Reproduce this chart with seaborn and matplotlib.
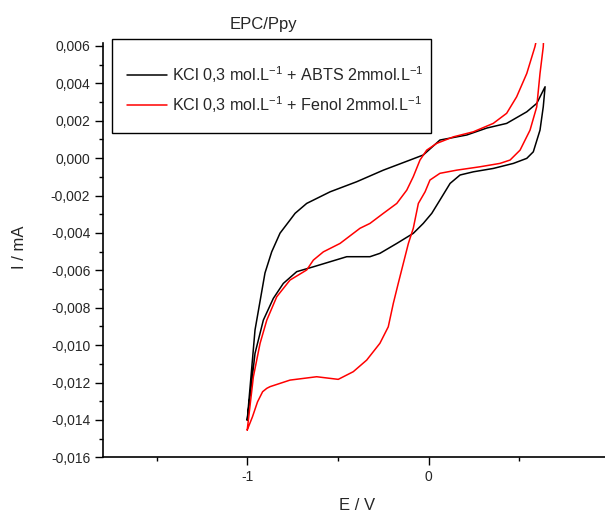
import numpy as np
import pandas as pd
import seaborn as sns
import matplotlib
matplotlib.use("Agg")
import matplotlib.pyplot as plt
from matplotlib.patches import Rectangle
from matplotlib.ticker import MultipleLocator, FuncFormatter

# %%
# curva KCl + ABTS (preta): ramo superior -1 -> 0,64 V e volta pelo ramo inferior
abts_E = [-1.0, -0.957, -0.902, -0.865, -0.819, -0.764, -0.736, -0.672, -0.543, -0.396,
          -0.249, -0.102, -0.029, 0.063, 0.211, 0.321, 0.431, 0.542, 0.597, 0.643,
          0.633, 0.615, 0.578, 0.542, 0.468, 0.357, 0.247, 0.174, 0.119, 0.063,
          0.018, -0.029, -0.084, -0.175, -0.268, -0.323, -0.451, -0.543, -0.635, -0.727,
          -0.801, -0.856, -0.911, -0.957, -1.0]
abts_I = [-0.01401, -0.00919, -0.00614, -0.00501, -0.00401, -0.00331, -0.00295, -0.00242, -0.00180, -0.00126,
          -0.00064, -0.00010, 0.00017, 0.00097, 0.00124, 0.00161, 0.00186, 0.00248, 0.00293, 0.00382,
          0.00275, 0.00150, 0.00034, -0.00001, -0.00028, -0.00055, -0.00073, -0.00090, -0.00135, -0.00224,
          -0.00295, -0.00349, -0.00402, -0.00456, -0.00509, -0.00527, -0.00527, -0.00554, -0.00581, -0.00607,
          -0.00670, -0.00750, -0.00866, -0.01044, -0.01401]

# curva KCl + Fenol (vermelha)
fenol_E = [-1.0, -0.971, -0.943, -0.915, -0.892, -0.874, -0.764, -0.617, -0.498, -0.415,
           -0.341, -0.268, -0.222, -0.194, -0.167, -0.139, -0.111, -0.084, -0.056, -0.019,
           0.008, 0.063, 0.156, 0.284, 0.394, 0.450, 0.505, 0.560, 0.597, 0.615,
           0.633, 0.645,
           0.587, 0.542, 0.486, 0.431, 0.357, 0.247, 0.137, 0.045, -0.010, -0.047,
           -0.084, -0.120, -0.175, -0.249, -0.323, -0.378, -0.488, -0.580, -0.635, -0.672,
           -0.764, -0.837, -0.892, -0.929, -0.966, -1.0]
fenol_I = [-0.01454, -0.01383, -0.01303, -0.01249, -0.01231, -0.01222, -0.01187, -0.01169, -0.01183, -0.01142,
           -0.01080, -0.00990, -0.00902, -0.00776, -0.00670, -0.00563, -0.00456, -0.00375, -0.00242, -0.00180,
           -0.00117, -0.00081, -0.00064, -0.00046, -0.00028, -0.00010, 0.00043, 0.00150, 0.00275, 0.00453,
           0.00596, 0.00850,
           0.00596, 0.00453, 0.00328, 0.00240, 0.00186, 0.00141, 0.00114, 0.00079, 0.00043, -0.00010,
           -0.00099, -0.00171, -0.00242, -0.00295, -0.00349, -0.00375, -0.00456, -0.00501, -0.00545, -0.00598,
           -0.00652, -0.00741, -0.00866, -0.00990, -0.01169, -0.01454]

labels = [r"KCl 0,3 mol.L$^{-1}$ + ABTS 2mmol.L$^{-1}$",
          r"KCl 0,3 mol.L$^{-1}$ + Fenol 2mmol.L$^{-1}$"]
cores = ["#000000", "#ff0000"]

# %%
df = pd.concat([
    pd.DataFrame({"E": abts_E, "I": abts_I, "amostra": labels[0]}),
    pd.DataFrame({"E": fenol_E, "I": fenol_I, "amostra": labels[1]}),
], ignore_index=True)

sns.set_style("ticks")
plt.rcParams["font.family"] = ["Liberation Sans", "DejaVu Sans"]
plt.rcParams["mathtext.fontset"] = "custom"
plt.rcParams["mathtext.rm"] = "Liberation Sans"
plt.rcParams["mathtext.it"] = "Liberation Sans:italic"

fig = plt.figure(figsize=(6.05, 5.15), dpi=100)
ax = fig.add_axes([0.1707, 0.112, 0.8293, 0.8045])

sns.lineplot(data=df, x="E", y="I", hue="amostra", palette=dict(zip(labels, cores)),
             sort=False, estimator=None, lw=1.1, ax=ax, legend=False)

ax.set_xlim(-1.794, 0.9735)
ax.set_ylim(-0.016, 0.00616)
sns.despine(ax=ax)
for s in ["left", "bottom"]:
    ax.spines[s].set_linewidth(1.2)
    ax.spines[s].set_color("black")

ax.xaxis.set_major_locator(MultipleLocator(1.0))
ax.xaxis.set_minor_locator(MultipleLocator(0.5))
ax.yaxis.set_major_locator(MultipleLocator(0.002))
ax.yaxis.set_minor_locator(MultipleLocator(0.001))
ax.xaxis.set_major_formatter(FuncFormatter(lambda v, p: f"{v:.0f}".replace("\u2212", "-")))


def fmt_y(v, p):
    s = f"{v:.3f}".replace(".", ",")
    return "0,000" if s == "-0,000" else s


ax.yaxis.set_major_formatter(FuncFormatter(fmt_y))
ax.tick_params(which="major", direction="out", length=5.8, width=1.0, labelsize=10, color="black")
ax.tick_params(which="minor", direction="out", length=2.9, width=1.0, color="black")
ax.set_xlabel("")
ax.set_ylabel("")

fig.text(357 / 605, 1 - 506 / 515, "E / V", ha="center", va="center", fontsize=12)
fig.text(20 / 605, 1 - 247 / 515, "I / mA", ha="center", va="center", rotation=90, fontsize=12)
fig.text(263 / 605, 1 - 24 / 515, "EPC/Ppy", ha="center", va="center", fontsize=12)

# legenda no estilo Origin
fig.patches.append(Rectangle((112 / 605, 1 - 133 / 515), 319 / 605, 94 / 515,
                             transform=fig.transFigure, fill=False, ec="black", lw=1.0))
handles = [plt.Line2D([], [], color=c, lw=1.1) for c in cores]
fig.legend(handles, labels, loc="upper left", bbox_to_anchor=(127 / 605, 1 - 64 / 515),
           frameon=False, fontsize=11.6, handlelength=2.5, handletextpad=0.3,
           labelspacing=0.6, borderpad=0, borderaxespad=0)

fig.savefig("out.png", dpi=100)
